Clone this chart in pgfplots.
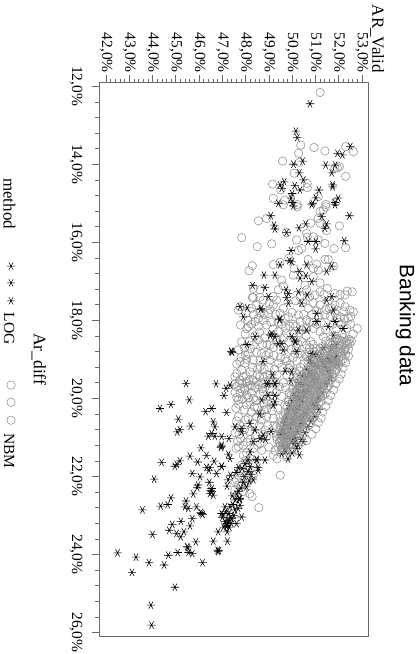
\documentclass[border=0pt]{standalone}
\usepackage{fontspec}
\setmainfont{Liberation Serif}
\newfontfamily\titlefont{Liberation Sans}
\usepackage{pgfplots}
\pgfplotsset{compat=1.18}
\definecolor{framegray}{RGB}{105,105,105}
\definecolor{nbmgray}{RGB}{150,150,150}

\begin{document}
\begin{tikzpicture}
\useasboundingbox (0,0) rectangle (419pt,654pt);
\begin{axis}[
    at={(99pt,18pt)}, anchor=south west,
    scale only axis, width=269.7pt, height=553.7pt,
    xmin=41.70, xmax=53.29, ymin=11.90, ymax=26.09,
    y dir=reverse,
    clip=false,
    font=\fontsize{15.5}{17}\selectfont,
    /pgf/number format/assume math mode=true,
    xtick={42,...,53}, ytick={12,14,...,26},
    minor x tick num=4, minor y tick num=4,
    tick align=outside, major tick length=7pt, minor tick length=3.5pt,
    xtick pos=upper, ytick pos=left, xticklabel pos=upper,
    axis line style={framegray,line width=0.8pt},
    every tick/.style={framegray,line width=0.6pt},
    xticklabel={\pgfmathprintnumber[fixed,fixed zerofill,precision=1,use comma]{\tick}\%},
    yticklabel={\pgfmathprintnumber[fixed,fixed zerofill,precision=1,use comma]{\tick}\%},
    x tick label style={rotate=-90,anchor=east},
    y tick label style={rotate=-90,anchor=north},
    xticklabel shift=-1pt, yticklabel shift=6pt,
    title={\titlefont Banking data},
    every axis title/.style={at={(axis description cs:1.116,0.5606)},rotate=-90,anchor=base,inner sep=0pt,font=\fontsize{20.8}{23}\selectfont},
    xlabel={AR\_Valid},
    every axis x label/.style={at={(axis description cs:1.0315,1.0168)},rotate=-90,anchor=east,inner sep=0pt,font=\fontsize{17}{19}\selectfont},
    ylabel={Ar\_diff},
    every axis y label/.style={at={(axis description cs:-0.2225,0.5)},rotate=-90,anchor=center,inner sep=0pt,font=\fontsize{17.5}{19}\selectfont},
]
% NBM, outer part of the cloud
\addplot[only marks, mark=o, mark size=4.2, nbmgray, line width=0.6pt] coordinates {
(51.20,12.16) (50.37,13.51) (50.94,13.57) (51.41,13.66) (52.30,13.55) (52.63,13.68) (49.59,13.92) (50.28,13.72)
(50.31,13.95) (51.94,14.09) (52.03,14.06) (51.84,14.10) (52.30,14.31) (50.09,14.23) (49.16,14.51) (49.51,14.66)
(50.65,14.49) (50.65,14.60) (49.19,14.87) (49.69,14.92) (51.12,14.83) (51.45,15.03) (50.22,15.03)
(49.62,15.04) (50.22,15.09) (51.45,15.09) (51.88,14.96) (48.55,15.45) (48.90,15.39) (51.20,15.21) (51.34,15.17)
(51.12,15.39) (51.20,15.51) (51.48,15.70) (52.03,15.58) (50.80,15.51) (49.76,15.75) (50.62,15.77) (50.65,15.87)
(50.91,15.86) (50.19,15.94) (51.12,15.94) (51.41,16.03) (51.80,16.16) (52.30,16.14) (47.83,15.88) (48.50,16.11)
(49.12,16.04) (50.41,16.16) (50.27,16.21) (50.69,16.44) (49.86,16.41) (49.19,16.57) (48.29,16.60) (48.15,16.73)
(49.48,16.52) (51.41,16.44) (51.55,16.44) (51.77,16.61) (51.05,16.56) (50.91,16.67) (51.12,16.71) (50.08,16.67)
(50.05,16.84) (49.55,16.97) (49.62,17.12) (50.91,16.88) (51.20,17.04) (50.55,17.10) (51.51,17.18) (52.37,17.25)
(52.58,17.27) (48.33,17.18) (48.62,17.22) (49.41,17.21) (51.20,17.27) (51.84,17.31) (52.06,17.34) (51.37,17.33)
(50.98,17.35) (48.29,17.41) (48.62,17.41) (49.19,17.39) (50.34,17.39) (50.62,17.22) (52.27,17.35)
(47.76,17.65) (47.69,17.74) (48.12,18.16) (48.05,18.21) (48.33,17.42) (48.76,17.48) (49.19,17.61) (48.98,17.82)
(48.55,17.95) (48.40,18.03) (48.90,18.12) (48.26,17.69) (49.33,17.48) (49.62,17.69) (49.84,17.91) (50.27,17.86)
(50.34,18.03) (50.69,17.69) (51.20,17.61) (50.62,17.99) (50.91,18.21) (51.41,17.86) (51.84,17.61) (52.06,17.56)
(52.27,17.65) (52.48,17.74) (52.63,17.78) (52.41,17.95) (52.06,17.91) (51.84,17.82) (52.80,18.21) (52.48,18.59)
(52.27,18.76) (51.91,18.21) (51.20,18.29) (51.34,18.42) (50.62,18.63) (50.55,18.87) (49.76,18.33) (49.41,18.29)
(49.05,18.63) (48.69,18.85) (48.33,18.63) (47.83,18.55) (47.69,18.76) (48.12,18.85) (48.33,19.02) (47.97,19.10)
(47.76,19.06) (47.62,19.36) (47.54,19.45) (47.83,19.27) (48.19,19.32) (48.62,19.19) (49.05,19.02) (49.41,19.10)
(49.69,18.98) (49.91,19.15) (48.76,19.45) (49.05,19.40) (48.33,19.53) (48.05,19.57) (47.76,19.53) (49.76,19.40)
(50.05,19.57) (50.12,18.85)
(47.60,19.70) (47.55,19.85) (47.62,19.98) (47.70,20.15) (47.58,20.25) (47.85,19.62) (47.95,19.75) (48.10,19.70)
(48.25,19.85) (48.40,19.72) (48.55,19.65) (48.70,19.60) (48.62,19.90) (48.45,20.05) (48.20,20.10) (47.95,20.30)
(48.80,20.15) (48.95,20.05) (49.05,19.75) (49.20,19.55) (49.35,19.40) (49.45,19.70) (49.55,19.95) (47.80,18.95)
(47.95,18.70) (48.15,18.55) (48.40,18.40) (48.60,18.30) (48.82,18.45) (49.00,18.85) (49.20,18.70) (49.35,18.55)
(49.50,18.95) (49.65,18.70) (49.85,18.55) (50.05,18.35) (50.25,18.60) (50.40,18.25) (50.60,18.40) (50.80,18.55)
(50.95,18.80) (50.20,19.05) (50.35,18.85) (48.30,19.20) (48.50,19.40) (48.80,19.25) (49.00,19.20) (49.25,19.25)
(47.98,18.35) (48.25,18.10) (48.55,18.15) (48.80,17.85) (49.10,18.05) (49.30,17.85) (49.55,18.10) (50.00,17.80)
(50.15,17.50) (50.45,17.55) (50.75,17.40) (50.90,17.55) (51.05,17.75) (51.55,17.50) (51.65,17.90) (51.75,18.10)
(52.10,18.10) (52.25,17.95) (52.35,18.20) (52.15,18.35) (52.00,18.05) (51.25,18.05) (51.45,18.25) (50.90,18.05)
(50.50,17.85)
(47.54,19.62) (47.76,19.87) (47.69,20.04) (47.97,19.79) (48.19,19.66) (48.33,20.00) (48.04,20.17) (48.69,20.39)
(48.76,19.83) (47.69,20.47) (48.11,20.51) (48.47,20.47) (48.90,20.47) (49.19,20.51) (49.33,20.73) (48.83,20.81)
(48.90,20.98) (49.33,20.98) (48.62,21.16) (48.69,21.33) (47.69,21.24) (47.59,21.28) (47.79,21.03) (48.36,21.28)
(49.19,21.46) (49.26,21.33) (49.55,21.33) (49.76,21.50) (49.83,20.09) (49.69,20.17) (47.90,21.46) (48.19,21.54)
(48.33,21.67) (47.83,21.71) (48.00,21.60) (47.75,21.85) (48.10,21.85)
(49.49,21.97) (48.57,22.80) (48.28,22.52) (47.54,22.35) (47.68,21.97) (47.90,21.88) (48.04,22.14) (47.83,22.22)
(47.68,22.22) (48.18,22.44) (47.61,22.09) (48.11,21.75) (47.90,22.39) (47.54,22.14) (48.33,21.97)
(47.78,18.12) (48.02,17.82) (48.45,17.62) (48.62,17.80) (49.02,17.58) (49.48,17.82) (49.72,18.20) (49.18,18.22)
(48.72,18.62) (48.48,18.82) (48.05,19.00) (47.62,19.12) (47.72,19.60) (48.02,19.42) (48.28,19.68) (48.52,19.25)
(48.92,19.40) (49.12,19.58) (49.32,19.85) (49.02,19.95) (48.78,20.30) (48.50,20.25) (48.25,20.35) (48.00,20.55)
(47.78,20.70) (47.62,20.58) (47.55,20.88) (47.72,20.92) (47.95,20.80) (48.18,20.85) (48.35,20.65) (48.58,20.70)
(48.68,20.55) (48.95,20.70) (49.15,20.32) (49.38,20.25) (49.48,20.48) (49.50,20.70) (48.20,21.05) (48.50,21.20)
(47.90,21.20) (48.05,21.40) (49.00,21.25) (49.35,21.55) (48.85,19.70) (48.60,19.45) (48.12,19.98) (47.85,20.02)
(49.62,19.60) (49.88,19.85) (49.72,19.72) (49.85,19.22) (50.15,19.35) (50.35,19.20) (50.05,18.95) (50.42,18.55)
(50.72,18.82) (49.90,18.15) (50.15,18.15) (50.85,17.85) (51.45,17.72) (51.70,17.68)
(48.10,18.00) (48.35,17.85) (48.75,18.00) (49.05,17.72) (49.42,18.05) (49.70,17.95) (50.05,18.10) (50.30,18.32)
(50.62,18.20) (50.75,18.05) (51.05,18.10) (51.15,17.90) (51.60,17.70) (51.92,17.95) (52.22,17.78) (52.52,17.90)
(52.50,18.10) (52.62,18.35) (48.55,18.50) (48.92,18.62) (49.30,18.45) (49.65,18.45) (49.95,18.75) (50.18,18.70)
(48.00,18.90) (48.22,18.72) (48.62,19.02) (48.88,18.90) (49.22,18.90) (49.55,19.20) (49.75,19.05) (50.00,19.28)
(47.90,19.45) (48.15,19.55) (48.45,19.58) (48.72,19.75) (48.98,19.55) (49.30,19.60) (47.80,19.75) (48.05,19.92)
(48.38,20.22) (48.90,20.28) (49.10,20.12) (49.22,20.70) (48.78,20.92) (48.42,20.95) (48.05,21.12) (47.65,21.10)
};

\addplot[only marks, mark=asterisk, mark size=4.2, black, line width=0.55pt, mark options={rotate=90}] coordinates {
(50.77,12.45) (50.16,13.15) (50.22,13.32) (52.50,13.54) (51.95,13.72) (52.16,13.76) (50.45,13.92) (50.06,14.00)
(51.44,14.02) (51.85,14.02) (51.70,14.22) (50.31,14.22) (50.48,14.40) (49.66,14.45) (49.48,14.53) (49.55,14.62)
(50.11,14.55) (50.34,14.66) (50.00,14.75) (51.74,14.58) (51.74,14.53) (51.15,14.66) (51.02,14.86) (51.98,14.87)
(51.84,14.98) (49.95,14.87) (49.41,15.00) (50.01,14.98) (50.88,15.00) (50.05,15.07) (50.84,15.04) (51.84,15.04)
(52.46,15.32) (49.08,15.32) (49.22,15.56) (49.26,15.66) (49.76,15.75) (50.29,15.63) (50.58,15.53) (51.27,15.34)
(51.48,15.53) (51.41,15.64) (52.24,15.96) (50.69,15.98) (51.02,15.98) (51.01,16.17) (49.95,16.21) (49.98,16.50)
(49.88,16.47) (49.48,16.58) (48.79,16.84) (49.26,16.84) (51.48,16.74) (51.70,16.61) (50.62,16.58) (50.31,16.75)
(50.59,16.86) (50.34,16.92) (50.84,17.01) (48.30,17.11) (48.83,17.16) (49.74,17.22) (49.84,17.31) (50.27,17.27)
(50.65,17.35) (51.70,17.39) (48.98,17.39) (49.76,17.41) (48.07,17.68) (47.90,17.91) (48.65,17.72) (48.67,17.70)
(49.45,17.99) (49.47,17.97) (49.84,17.56) (50.41,17.56) (51.05,17.82) (51.05,18.03) (50.62,18.25) (50.27,18.25)
(50.12,18.55) (50.14,18.53) (49.98,18.42) (47.40,18.80) (47.42,18.82) (47.38,18.79) (48.05,18.62) (48.40,18.42)
(49.05,18.38) (49.26,18.42) (49.62,18.76) (50.19,18.80) (51.84,18.03) (52.20,18.21) (51.55,18.16) (49.98,19.32)
(48.98,19.62) (49.26,19.62) (51.48,17.48) (51.77,17.74) (47.76,17.65) (49.55,18.59) (50.84,18.85) (48.75,19.05)
(49.12,18.35) (49.40,18.60) (49.70,19.30) (49.95,19.55) (49.15,19.40) (48.60,20.40) (49.10,20.85) (48.85,21.05)
(45.44,19.62) (46.73,19.63) (47.33,19.66) (47.16,19.74) (47.07,19.93) (45.58,20.04) (44.79,20.16) (44.32,20.26)
(46.54,20.26) (46.28,20.34) (47.18,20.36) (45.11,20.53) (45.64,20.71) (45.18,20.80) (45.06,20.86) (46.61,20.60)
(46.68,20.73) (46.54,20.90) (46.40,20.97) (46.68,20.97) (46.97,20.98) (47.28,21.03) (46.97,21.20) (46.94,21.26)
(46.96,21.23) (46.08,21.27) (46.32,21.46) (47.26,21.43) (47.33,21.54) (45.61,21.48) (45.18,21.60) (44.39,21.64)
(45.94,21.63) (46.65,21.61) (44.96,21.74) (45.04,21.69) (46.32,21.77) (46.47,21.77) (46.97,21.74) (48.90,19.63)
(49.26,19.63) (48.97,19.92) (49.26,19.92) (48.69,20.04) (49.19,20.17) (49.26,20.09) (47.54,20.73) (47.83,20.77)
(47.83,20.86) (48.19,20.64) (48.40,20.81) (48.76,20.94) (48.33,21.11) (48.62,21.03) (48.83,21.58) (48.19,21.37)
(48.47,21.56) (48.49,21.58) (48.11,21.58) (47.97,21.67) (48.19,21.75) (48.54,21.77) (47.69,21.77) (50.26,21.20)
(50.48,21.11) (50.31,21.45) (50.19,21.28) (49.62,20.90)
(44.07,22.07) (43.57,22.86) (44.79,22.55) (44.35,22.76) (44.65,22.72) (45.44,22.63) (45.39,22.78) (45.54,22.82)
(45.89,22.78) (45.75,22.45) (45.92,22.29) (45.96,22.22) (46.04,22.01) (45.71,21.92) (46.42,21.84) (46.75,21.92)
(46.97,21.75) (46.44,22.15) (46.54,22.39) (46.47,22.44) (46.61,22.48) (46.54,22.31) (46.50,22.36) (46.07,22.92)
(46.15,22.98) (46.11,22.95) (45.71,23.08) (45.61,23.27) (45.22,23.15) (44.85,23.23) (44.72,23.38) (45.03,23.46)
(45.21,23.55) (45.35,23.42) (44.00,23.49) (45.86,23.68) (45.49,23.80) (45.52,23.83) (45.55,23.95) (45.71,23.98)
(45.08,23.95) (44.68,24.02) (44.50,24.27) (42.50,23.96) (43.29,24.07) (43.85,24.21) (43.12,24.46) (46.15,24.21)
(44.96,24.84) (43.93,25.30) (43.96,25.81) (46.61,23.66) (46.82,23.42) (46.80,23.89) (46.82,23.93) (46.85,23.90)
(47.22,23.66) (47.21,23.42) (47.21,23.25) (47.18,23.29) (47.11,23.16) (46.97,22.95) (47.04,22.99) (47.11,22.78)
(47.33,22.78) (47.35,23.06) (47.61,23.21) (47.83,23.04) (47.73,22.59) (47.73,22.56) (47.75,22.57) (47.76,22.74)
(47.68,22.82) (47.25,22.09) (47.35,21.97) (48.33,22.09) (48.11,21.88) (48.04,22.27) (48.54,21.84) (47.25,23.12)
(47.54,22.86) (47.18,23.21) (47.40,23.08) (47.24,23.19) (47.62,22.45) (47.90,22.15) (47.80,22.30) (47.55,22.60)
(47.15,22.90) (47.28,22.95) (47.45,22.72) (47.50,23.00) (47.30,23.30) (47.38,23.20) (47.05,23.30) (47.00,23.05)
(47.42,22.50) (47.68,22.38) (47.95,22.00) (48.15,22.12) (47.60,21.90) (47.85,21.80) (48.25,21.95) (47.20,22.25)
(51.85,18.62) (51.35,18.70) (50.95,18.88) (51.90,18.92) (50.75,19.02) (51.65,19.05) (51.95,19.12) (51.05,19.18)
(50.62,19.25) (51.55,19.28) (50.92,19.38) (50.42,19.42) (51.62,19.46) (51.02,19.52) (50.30,19.60) (51.45,19.62)
(50.70,19.68) (51.18,19.74) (50.22,19.78) (50.62,19.82) (51.30,19.86) (50.10,19.92) (50.52,19.95) (51.12,20.00)
(50.00,20.06) (50.42,20.08) (50.90,20.12) (49.92,20.18) (50.28,20.22) (50.70,20.25) (51.15,20.28) (49.85,20.32)
(50.15,20.38) (50.55,20.42) (50.98,20.46) (49.75,20.48) (50.05,20.52) (50.40,20.55) (50.80,20.58) (49.68,20.62)
(50.00,20.66) (50.30,20.70) (50.68,20.72) (49.60,20.78) (49.90,20.80) (50.22,20.85) (50.55,20.88) (49.50,20.92)
(49.82,20.95) (50.12,21.00) (50.40,21.05) (49.70,21.05) (49.95,21.10) (50.10,21.15) (49.60,21.20) (49.85,21.25)
(51.15,18.93) (51.40,19.19) (50.78,19.36) (50.62,19.45) (51.70,18.72) (51.35,19.06) (51.54,18.98) (51.77,18.38)
(50.85,19.10) (50.85,19.55) (50.45,19.65) (50.40,19.85) (50.28,20.00) (50.98,20.18) (50.62,20.35) (50.12,20.55)
(50.42,20.65) (50.18,20.28) (49.85,20.70) (50.05,21.02) (49.72,21.35) (50.00,21.40) (49.55,21.42) (49.82,21.55)
};

% NBM, dense band, over the LOG stars
\addplot[only marks, mark=o, mark size=4.2, nbmgray, line width=0.6pt] coordinates {
(51.75,18.42) (51.95,18.47) (52.20,18.44) (52.45,18.49) (51.45,18.53) (51.65,18.58) (51.85,18.55) (52.05,18.51)
(52.30,18.57) (52.55,18.53) (51.30,18.67) (51.55,18.62) (51.80,18.68) (51.98,18.63) (52.15,18.66) (52.38,18.61)
(51.20,18.73) (51.42,18.78) (51.62,18.74) (51.85,18.77) (52.02,18.72) (52.22,18.79) (52.42,18.74) (51.08,18.87)
(51.30,18.83) (51.50,18.86) (51.72,18.82) (51.92,18.88) (52.10,18.84) (52.30,18.87) (50.98,18.94) (51.22,18.98)
(51.40,18.93) (51.60,18.97) (51.78,18.92) (52.00,18.96) (52.20,18.99) (50.90,19.07) (51.12,19.03) (51.32,19.08)
(51.50,19.04) (51.70,19.06) (51.90,19.02) (52.08,19.07) (50.80,19.14) (51.00,19.18) (51.22,19.13) (51.40,19.16)
(51.60,19.12) (51.80,19.18) (52.00,19.15) (50.72,19.27) (50.92,19.23) (51.12,19.26) (51.32,19.22) (51.50,19.28)
(51.72,19.24) (51.90,19.26) (50.60,19.33) (50.85,19.37) (51.05,19.34) (51.22,19.38) (51.42,19.32) (51.62,19.36)
(51.85,19.33) (50.55,19.47) (50.75,19.43) (50.95,19.46) (51.12,19.42) (51.35,19.48) (51.55,19.44) (51.75,19.47)
(50.45,19.53) (50.65,19.57) (50.85,19.54) (51.05,19.58) (51.25,19.52) (51.45,19.56) (51.65,19.53) (50.35,19.67)
(50.58,19.63) (50.78,19.66) (50.98,19.62) (51.15,19.68) (51.35,19.64) (51.58,19.67) (50.30,19.73) (50.50,19.77)
(50.70,19.74) (50.90,19.78) (51.08,19.72) (51.28,19.76) (51.50,19.73) (50.20,19.87) (50.42,19.83) (50.62,19.86)
(50.80,19.82) (51.00,19.88) (51.20,19.84) (51.42,19.87) (50.12,19.93) (50.35,19.97) (50.55,19.94) (50.72,19.98)
(50.92,19.92) (51.12,19.96) (51.32,19.93) (50.02,20.07) (50.25,20.03) (50.45,20.06) (50.65,20.02) (50.85,20.08)
(51.05,20.04) (51.25,20.07) (49.98,20.13) (50.18,20.17) (50.40,20.14) (50.60,20.18) (50.78,20.12) (50.98,20.16)
(51.15,20.13) (49.92,20.27) (50.10,20.23) (50.32,20.26) (50.52,20.22) (50.70,20.28) (50.90,20.24) (51.08,20.27)
(49.85,20.33) (50.05,20.37) (50.25,20.34) (50.45,20.38) (50.62,20.32) (50.82,20.36) (51.02,20.33) (49.80,20.47)
(49.98,20.43) (50.20,20.46) (50.38,20.42) (50.58,20.48) (50.75,20.44) (50.95,20.47) (49.72,20.53) (49.92,20.57)
(50.12,20.54) (50.32,20.58) (50.50,20.52) (50.68,20.56) (50.88,20.53) (49.68,20.67) (49.85,20.63) (50.05,20.66)
(50.25,20.62) (50.42,20.68) (50.60,20.64) (50.75,20.67) (49.62,20.73) (49.82,20.77) (50.00,20.74) (50.20,20.78)
(50.38,20.72) (50.55,20.76) (49.58,20.87) (49.75,20.83) (49.95,20.86) (50.12,20.82) (50.30,20.88) (50.45,20.84)
(49.50,20.93) (49.70,20.97) (49.90,20.94) (50.05,20.98) (50.22,20.92) (49.48,21.07) (49.65,21.03) (49.80,21.06)
(50.00,21.02) (49.45,21.13) (49.60,21.17) (49.78,21.14) (49.95,21.18) (49.55,21.27) (49.72,21.23)
(51.90,18.50) (52.12,18.54) (52.35,18.52) (51.70,18.64) (51.90,18.70) (52.28,18.72) (51.52,18.80) (51.75,18.80)
(52.05,18.80) (51.15,18.92) (51.52,18.90) (51.85,18.94) (52.12,18.92) (51.00,19.00) (51.25,19.06) (51.60,19.02)
(51.80,19.08) (51.98,19.10) (50.90,19.16) (51.12,19.15) (51.50,19.18) (51.70,19.14) (51.90,19.12) (50.82,19.30)
(51.02,19.28) (51.20,19.30) (51.42,19.26) (51.62,19.28) (50.70,19.38) (50.95,19.40) (51.15,19.35) (51.32,19.40)
(51.52,19.38) (51.72,19.40) (50.65,19.50) (50.85,19.48) (51.02,19.48) (51.25,19.46) (51.48,19.50) (50.55,19.60)
(50.72,19.60) (50.95,19.56) (51.15,19.58) (51.38,19.60) (51.58,19.58) (50.45,19.70) (50.68,19.68) (50.88,19.70)
(51.05,19.66) (51.25,19.70) (50.38,19.80) (50.60,19.78) (50.80,19.78) (51.00,19.78) (51.18,19.78) (51.38,19.80)
(50.28,19.90) (50.52,19.90) (50.70,19.90) (50.90,19.86) (51.08,19.90) (50.20,20.00) (50.42,20.00) (50.62,19.98)
(50.82,20.00) (51.02,20.00) (51.20,19.98) (50.08,20.10) (50.32,20.10) (50.52,20.10) (50.72,20.08) (50.92,20.10)
(50.02,20.20) (50.25,20.20) (50.45,20.20) (50.68,20.20) (50.85,20.18) (49.98,20.32) (50.15,20.30) (50.38,20.30)
(50.58,20.30) (50.75,20.30) (49.90,20.40) (50.12,20.42) (50.32,20.40) (50.50,20.42) (50.70,20.40) (49.85,20.52)
(50.05,20.50) (50.25,20.50) (50.42,20.50) (50.62,20.50) (49.78,20.60) (49.98,20.60) (50.18,20.60) (50.38,20.60)
(49.72,20.72) (49.92,20.70) (50.12,20.72) (50.30,20.70) (49.65,20.82) (49.85,20.82) (50.05,20.80) (50.22,20.82)
(49.60,20.95) (49.80,20.90) (49.98,20.90) (50.15,20.95) (49.55,21.05) (49.72,21.08) (49.90,21.05) (49.50,21.20)
(49.70,21.15) (49.85,21.22) (49.62,21.30) (49.78,21.35)
(50.75,18.70) (50.90,18.62) (51.05,18.72) (50.60,18.92) (50.78,18.98) (50.50,19.12) (50.68,19.05) (50.32,19.30)
(50.50,19.38) (50.22,19.48) (50.38,19.42) (50.12,19.62) (50.28,19.58) (50.02,19.75) (50.18,19.78) (49.95,19.92)
(50.08,19.85) (49.85,20.05) (49.78,20.22) (49.70,20.38) (49.62,20.45) (49.55,20.60) (49.48,20.80) (49.38,20.92)
(49.40,21.25) (49.35,21.05) (52.42,18.92) (52.30,19.08) (52.18,19.22) (52.10,19.38) (52.02,19.50) (51.88,19.62)
(51.78,19.78) (51.65,19.92) (51.55,20.05) (51.45,20.20) (51.32,20.35) (51.25,20.50) (51.12,20.62) (51.02,20.78)
(50.85,20.92) (50.62,21.08) (50.40,21.12) (50.25,21.22)
};

% legend keys, drawn in the margin
\addplot[only marks, mark=asterisk, mark size=4.2, black, line width=0.5pt, mark options={rotate=90}, forget plot] coordinates {
(37.92,16.61) (37.92,17.04) (37.92,17.50)
};
\addplot[only marks, mark=o, mark size=4.2, nbmgray, line width=0.6pt, forget plot] coordinates {
(37.92,19.66) (37.92,20.10) (37.92,20.56)
};
\node[rotate=-90,inner sep=0pt,font=\fontsize{17}{19}\selectfont] at (axis cs:37.85,15.01) {method};
\node[rotate=-90,inner sep=0pt] at (axis cs:37.84,18.22) {LOG};
\node[rotate=-90,inner sep=0pt] at (axis cs:37.84,21.34) {NBM};
\end{axis}
\end{tikzpicture}
\end{document}
